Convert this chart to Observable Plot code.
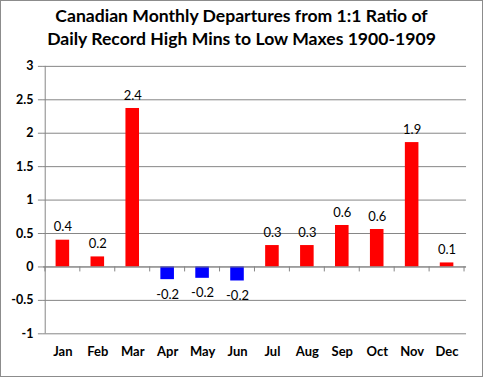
<!DOCTYPE html>
<html>
<head>
<meta charset="utf-8">
<script src="https://cdn.jsdelivr.net/npm/d3@7"></script>
<script src="https://cdn.jsdelivr.net/npm/@observablehq/plot@0.6"></script>
<style>
  html, body { margin: 0; padding: 0; background: #fff; }
  #wrap { position: relative; width: 483px; height: 377px; box-sizing: border-box; border: 1px solid #8c8c8c; overflow: hidden; }
  #title { position: absolute; left: 0; right: 0; top: 3px; text-align: center; font: bold 17.6px Lato, "Open Sans", sans-serif; line-height: 23px; color: #000; z-index: 2; }
  #chart { position: absolute; left: -1px; top: -1px; }
</style>
</head>
<body>
<div id="wrap">
  <div id="title">Canadian Monthly Departures from 1:1 Ratio of<br>Daily Record High Mins to Low Maxes 1900-1909</div>
  <div id="chart"></div>
</div>
<script>
const months = ["Jan","Feb","Mar","Apr","May","Jun","Jul","Aug","Sep","Oct","Nov","Dec"];
const values = [0.40, 0.15, 2.37, -0.19, -0.17, -0.21, 0.32, 0.32, 0.62, 0.56, 1.86, 0.06];
const labels = ["0.4","0.2","2.4","-0.2","-0.2","-0.2","0.3","0.3","0.6","0.6","1.9","0.1"];
const yTicks = [-1, -0.5, 0, 0.5, 1, 1.5, 2, 2.5, 3];

const data = months.map((m, i) => ({month: m, value: values[i], label: labels[i]}));

const font = "Lato, 'Open Sans', sans-serif";

// small tick marks at the category boundaries along the zero line
const boundaryTicks = (index, scales, values, dimensions) => {
  const g = d3.create("svg:g");
  const bw = scales.x.bandwidth ? scales.x.bandwidth() : 0;
  const y0 = scales.y(0);
  const xs = months.map(m => scales.x(m));
  xs.push(scales.x(months[months.length - 1]) + bw);
  for (const x of xs) {
    g.append("line").attr("x1", x).attr("x2", x).attr("y1", y0).attr("y2", y0 + 5)
      .attr("stroke", "#868686").attr("stroke-width", 1);
  }
  return g.node();
};

const plot = Plot.plot({
  width: 483,
  height: 377,
  marginLeft: 43,
  marginRight: 16,
  marginTop: 66,
  marginBottom: 43,
  style: {fontFamily: font, fontSize: "12px", color: "#000", background: "transparent"},
  x: {domain: months, padding: 0, label: null},
  y: {domain: [-1, 3], label: null},
  marks: [
    Plot.gridY(yTicks, {stroke: "#868686", strokeOpacity: 1}),
    Plot.axisY(yTicks, {tickSize: 5, tickPadding: 5, fontWeight: "bold", fontSize: 12.5, stroke: "#868686", tickFormat: d => String(d)}),
    Plot.ruleX([0], {x: () => months[0], dx: -17.7, stroke: "#868686"}),
    Plot.axisX({tickSize: 0, tickPadding: 13, fontWeight: "bold", fontSize: 13}),
    Plot.barY(data, {x: "month", y: "value", fill: d => d.value >= 0 ? "#ff0000" : "#0000ff", insetLeft: 10.7, insetRight: 10.7}),
    Plot.ruleY([0], {stroke: "#868686"}),
    boundaryTicks,
    Plot.text(data, {x: "month", y: "value", text: "label", fontSize: 13, fill: "#000",
      lineAnchor: "middle", filter: d => d.value >= 0, dy: -13}),
    Plot.text(data, {x: "month", y: "value", text: "label", fontSize: 13, fill: "#000",
      lineAnchor: "middle", filter: d => d.value < 0, dy: 15})
  ]
});
document.getElementById("chart").appendChild(plot);
</script>
</body>
</html>
